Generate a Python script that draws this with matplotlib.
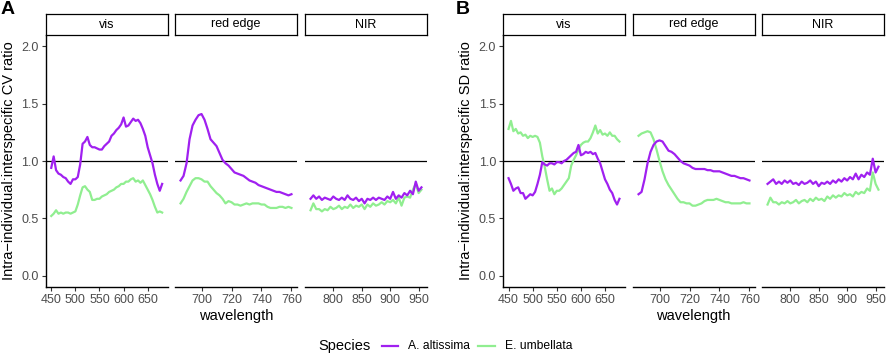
import numpy as np
import matplotlib
matplotlib.use("Agg")
import matplotlib.pyplot as plt
from matplotlib.lines import Line2D

plt.rcParams['font.family'] = ['Liberation Sans', 'DejaVu Sans']

PURPLE = '#A020F0'
GREEN = '#90EE90'

facets = ['vis', 'red edge', 'NIR']
species = ['A. altissima', 'E. umbellata']

# wavelength grids for each facet
wl_vis = np.arange(450, 681, 5)
wl_red = np.arange(686, 761, 2)
wl_nir = np.arange(760, 956, 5)

xticks = {
    'vis': [450, 500, 550, 600, 650],
    'red edge': [700, 720, 740, 760],
    'NIR': [800, 850, 900, 950],
}

# panel A: CV ratio
cv_vis_alt = [0.94, 1.04, 0.92, 0.89, 0.88, 0.86, 0.85, 0.82, 0.80, 0.84, 0.84, 0.86,
              0.97, 1.15, 1.17, 1.21, 1.14, 1.12, 1.12, 1.11, 1.10, 1.10, 1.13, 1.15,
              1.17, 1.22, 1.24, 1.27, 1.29, 1.32, 1.38, 1.30, 1.31, 1.34, 1.37, 1.35,
              1.36, 1.33, 1.28, 1.22, 1.12, 1.05, 0.98, 0.88, 0.80, 0.74, 0.80]
cv_vis_umb = [0.52, 0.54, 0.57, 0.54, 0.55, 0.54, 0.55, 0.55, 0.54, 0.55, 0.56, 0.62,
              0.70, 0.77, 0.78, 0.75, 0.73, 0.66, 0.66, 0.67, 0.67, 0.69, 0.70, 0.71,
              0.73, 0.74, 0.75, 0.77, 0.78, 0.80, 0.80, 0.82, 0.82, 0.84, 0.85, 0.82,
              0.83, 0.81, 0.83, 0.79, 0.75, 0.71, 0.66, 0.60, 0.55, 0.56, 0.55]
cv_red_alt = [0.83, 0.87, 0.98, 1.19, 1.31, 1.36, 1.40, 1.41, 1.36, 1.28, 1.19, 1.16,
              1.13, 1.07, 1.01, 0.98, 0.96, 0.93, 0.90, 0.89, 0.88, 0.87, 0.85, 0.83,
              0.82, 0.81, 0.79, 0.78, 0.77, 0.76, 0.75, 0.74, 0.73, 0.73, 0.72, 0.71,
              0.70, 0.71]
cv_red_umb = [0.63, 0.67, 0.73, 0.78, 0.83, 0.85, 0.85, 0.84, 0.82, 0.82, 0.78, 0.75,
              0.72, 0.70, 0.67, 0.63, 0.65, 0.64, 0.62, 0.62, 0.61, 0.62, 0.63, 0.62,
              0.63, 0.63, 0.63, 0.62, 0.62, 0.60, 0.59, 0.59, 0.59, 0.60, 0.60, 0.59,
              0.60, 0.59]
cv_nir_alt = [0.67, 0.70, 0.67, 0.69, 0.66, 0.68, 0.67, 0.66, 0.69, 0.67, 0.66, 0.68,
              0.66, 0.70, 0.67, 0.66, 0.68, 0.65, 0.67, 0.63, 0.67, 0.66, 0.68, 0.66,
              0.68, 0.67, 0.66, 0.69, 0.67, 0.73, 0.67, 0.70, 0.68, 0.72, 0.70, 0.74,
              0.71, 0.82, 0.74, 0.77]
cv_nir_umb = [0.57, 0.63, 0.58, 0.58, 0.56, 0.58, 0.57, 0.60, 0.58, 0.59, 0.61, 0.58,
              0.60, 0.59, 0.62, 0.59, 0.61, 0.60, 0.62, 0.58, 0.62, 0.60, 0.63, 0.61,
              0.62, 0.64, 0.62, 0.65, 0.64, 0.66, 0.63, 0.68, 0.61, 0.68, 0.69, 0.68,
              0.75, 0.80, 0.72, 0.75]

# panel B: SD ratio
sd_vis_alt = [0.85, 0.80, 0.74, 0.76, 0.77, 0.72, 0.72, 0.67, 0.69, 0.71, 0.70, 0.73,
              0.80, 0.88, 0.99, 0.97, 0.96, 0.98, 0.98, 0.97, 0.99, 0.99, 0.98, 1.00,
              1.01, 1.03, 1.05, 1.07, 1.08, 1.14, 1.05, 1.06, 1.08, 1.07, 1.08, 1.06,
              1.07, 1.02, 0.98, 0.91, 0.84, 0.80, 0.75, 0.72, 0.66, 0.62, 0.67]
sd_vis_umb = [1.28, 1.35, 1.26, 1.28, 1.24, 1.25, 1.22, 1.23, 1.20, 1.22, 1.21, 1.22,
              1.21, 1.16, 1.04, 0.95, 0.84, 0.74, 0.76, 0.71, 0.74, 0.74, 0.76, 0.79,
              0.82, 0.85, 0.96, 1.01, 1.05, 1.10, 1.14, 1.16, 1.17, 1.17, 1.20, 1.25,
              1.31, 1.24, 1.27, 1.23, 1.24, 1.22, 1.25, 1.22, 1.22, 1.19, 1.17]
sd_red_alt = [0.71, 0.73, 0.84, 0.98, 1.08, 1.14, 1.17, 1.18, 1.17, 1.13, 1.09, 1.08,
              1.06, 1.03, 1.00, 0.98, 0.97, 0.96, 0.94, 0.93, 0.93, 0.93, 0.93, 0.92,
              0.92, 0.91, 0.91, 0.91, 0.90, 0.89, 0.88, 0.87, 0.87, 0.86, 0.85, 0.85,
              0.84, 0.83]
sd_red_umb = [1.22, 1.24, 1.25, 1.26, 1.25, 1.19, 1.10, 1.00, 0.91, 0.84, 0.79, 0.75,
              0.71, 0.67, 0.64, 0.64, 0.63, 0.63, 0.61, 0.61, 0.62, 0.63, 0.65, 0.66,
              0.66, 0.66, 0.67, 0.66, 0.65, 0.64, 0.64, 0.63, 0.63, 0.63, 0.63, 0.64,
              0.63, 0.63]
sd_nir_alt = [0.80, 0.82, 0.84, 0.80, 0.82, 0.80, 0.83, 0.81, 0.83, 0.80, 0.81, 0.79,
              0.82, 0.80, 0.81, 0.83, 0.80, 0.82, 0.78, 0.81, 0.80, 0.82, 0.80, 0.83,
              0.81, 0.84, 0.82, 0.85, 0.83, 0.86, 0.84, 0.89, 0.84, 0.88, 0.86, 0.90,
              0.88, 1.02, 0.90, 0.95]
sd_nir_umb = [0.62, 0.68, 0.64, 0.64, 0.62, 0.64, 0.63, 0.65, 0.63, 0.64, 0.66, 0.63,
              0.65, 0.66, 0.64, 0.67, 0.65, 0.68, 0.66, 0.67, 0.65, 0.69, 0.67, 0.70,
              0.68, 0.70, 0.69, 0.72, 0.70, 0.71, 0.69, 0.73, 0.71, 0.73, 0.72, 0.76,
              0.74, 0.90, 0.80, 0.75]

W, H = 892, 356
fig = plt.figure(figsize=(W / 100, H / 100), dpi=100)


def box(x0, y0, x1, y1):
    # pixel box (top-left origin) -> figure fraction rect
    return [x0 / W, 1 - y1 / H, (x1 - x0) / W, (y1 - y0) / H]


def draw_panel(lefts, letter, ylabel, data, letter_x, ylab_x):
    grids = [wl_vis, wl_red, wl_nir]
    for i, name in enumerate(facets):
        x0 = lefts[i]
        ax = fig.add_axes(box(x0, 35, x0 + 122, 287))
        alt, umb = data[i]
        wl = grids[i]
        ax.axhline(1.0, color='black', lw=0.9, zorder=1)
        ax.plot(wl, alt, color=PURPLE, lw=1.6, zorder=3)
        ax.plot(wl, umb, color=GREEN, lw=1.6, zorder=2)
        span = wl[-1] - wl[0]
        ax.set_xlim(wl[0] - 0.05 * span, wl[-1] + 0.05 * span)
        ax.set_ylim(-0.1, 2.1)
        ax.set_xticks(xticks[name])
        ax.set_yticks([0.0, 0.5, 1.0, 1.5, 2.0])
        ax.set_yticklabels(['0.0', '0.5', '1.0', '1.5', '2.0'])
        for s in ['top', 'right']:
            ax.spines[s].set_visible(False)
        ax.spines['bottom'].set_linewidth(1.0)
        ax.spines['left'].set_linewidth(1.0)
        ax.tick_params(axis='both', length=3, width=0.8, color='#333333',
                       labelsize=9, labelcolor='#4D4D4D', pad=2)
        if i > 0:
            ax.spines['left'].set_visible(False)
            ax.tick_params(axis='y', left=False, labelleft=False)
        # strip
        st = fig.add_axes(box(x0, 14, x0 + 122, 35))
        st.set_xticks([])
        st.set_yticks([])
        for s in st.spines.values():
            s.set_linewidth(0.9)
        st.text(0.5, 0.5, name, ha='center', va='center', fontsize=9,
                transform=st.transAxes)
    fig.text(letter_x / W, 1 - 10 / H, letter, fontsize=14, fontweight='bold',
             ha='left', va='center')
    fig.text(ylab_x / W, 1 - 161 / H, ylabel, rotation=90, fontsize=10.5,
             ha='center', va='center')
    cx = (lefts[0] + lefts[2] + 122) / 2
    fig.text(cx / W, 1 - 316 / H, 'wavelength', fontsize=10.5, ha='center',
             va='center')


draw_panel([45.7, 175, 305], 'A', 'Intra\u2212individual:interspecific CV ratio',
           [(cv_vis_alt, cv_vis_umb), (cv_red_alt, cv_red_umb),
            (cv_nir_alt, cv_nir_umb)], 1, 9)
draw_panel([503, 633, 762], 'B', 'Intra\u2212individual:interspecific SD ratio',
           [(sd_vis_alt, sd_vis_umb), (sd_red_alt, sd_red_umb),
            (sd_nir_alt, sd_nir_umb)], 456, 466)

# legend drawn in figure coordinates, title to the left of the keys
ly = 1 - 346 / H
fig.text(318 / W, ly, 'Species', fontsize=10.5, ha='left', va='center')
key_x = [(382, 398, 408), (478, 495, 505)]
for (k0, k1, tx), name, col in zip(key_x, species, [PURPLE, GREEN]):
    fig.add_artist(Line2D([k0 / W, k1 / W], [ly, ly], color=col, lw=1.6,
                          transform=fig.transFigure))
    fig.text(tx / W, ly, name, fontsize=8.7, ha='left', va='center')

fig.savefig('out.png', dpi=100)
